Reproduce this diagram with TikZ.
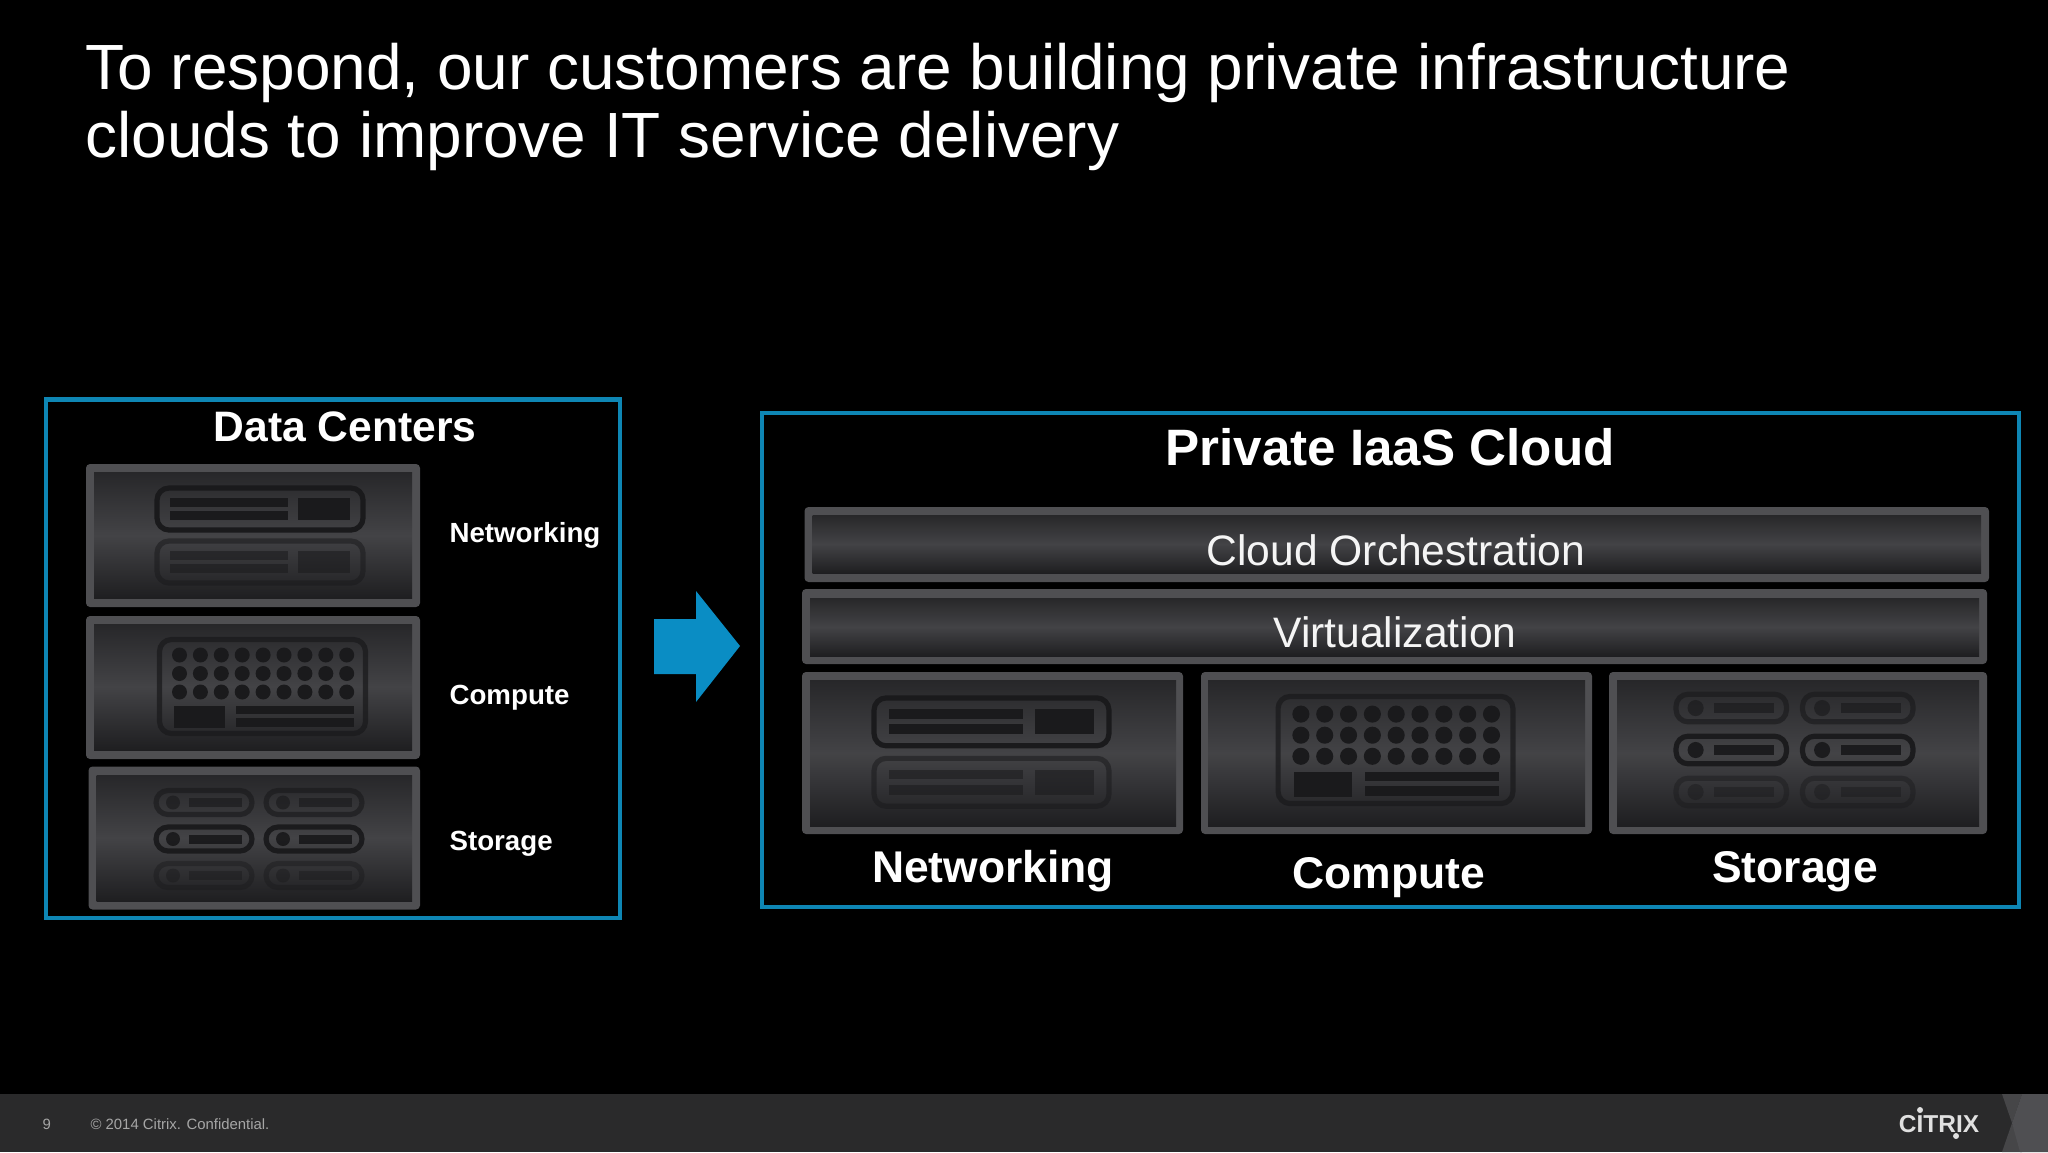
\documentclass[tikz,border=0pt]{standalone}
\usepackage{fontspec}
\setmainfont{Liberation Sans}
\usepackage{xcolor}
\usetikzlibrary{positioning}

\definecolor{frameblue}{HTML}{0E86B4}
\definecolor{arrowblue}{HTML}{0A8DC4}
\definecolor{rimgray}{HTML}{4F4F52}
\definecolor{icondark}{HTML}{1A1A1C}
\definecolor{footgray}{HTML}{2A2A2B}
\definecolor{panlow}{HTML}{18181A}
\definecolor{panmid}{HTML}{434346}

\pgfdeclareverticalshading{panelshade}{100bp}{
  color(0bp)=(panlow); color(25bp)=(panlow!85!panmid); color(50bp)=(panmid);
  color(75bp)=(panlow!65!panmid); color(100bp)=(panlow)}

\begin{document}
\begin{tikzpicture}[
    x=0.125mm, y=-0.125mm,
    % Node styles
    frame/.style={draw=frameblue, line width=0.56mm},
    rim/.style={fill=rimgray, rounded corners=0.5mm},
    panel/.style={shading=panelshade},
    heading/.style={text=white, font=\fontsize{15.8}{15.8}\selectfont\bfseries, inner sep=0pt, anchor=base},
    sidelabel/.style={text=white, font=\fontsize{9.85}{9.85}\selectfont\bfseries, inner sep=0pt, anchor=base west},
    layertext/.style={text=white!96!black, font=\fontsize{15.15}{15.15}\selectfont, inner sep=0pt, anchor=base},
    foottext/.style={text=white!65!black, font=\fontsize{5.3}{5.3}\selectfont, inner sep=0pt, anchor=base west},
    iconline/.style={draw=icondark, line width=0.65mm, rounded corners=1.5mm},
    iconpill/.style={draw=icondark, line width=0.65mm, rounded corners=1.5mm},
    iconfill/.style={fill=icondark},
    netdev/.pic={
      \foreach \yy/\op in {-26/1, 27/0.55} {
        \begin{scope}[opacity=\op]
          \draw[iconline] (-103,\yy-21) rectangle (103,\yy+21);
          \fill[iconfill] (-90,\yy-11) rectangle (28,\yy-2.5);
          \fill[iconfill] (-90,\yy+2) rectangle (28,\yy+11);
          \fill[iconfill] (38,\yy-11) rectangle (90,\yy+11);
        \end{scope}
      }
    },
    cpudev/.pic={
      \draw[iconline, opacity=0.75] (-103,-47) rectangle (103,47);
      \foreach \cc in {0,...,8} {
        \foreach \rr in {0,1,2} {
          \fill[iconfill] (-83+\cc*20.9,-31.5+\rr*18.5) circle (7.5);
        }
      }
      \fill[iconfill] (-89,19) rectangle (-38,41.5);
      \fill[iconfill] (-27,19) rectangle (91,27.5);
      \fill[iconfill] (-27,31.5) rectangle (91,40.5);
    },
    diskdev/.pic={
      \foreach \yy/\op in {-36.5/0.65, 0/0.95, 36.5/0.45} {
        \foreach \xx in {-55,55} {
          \begin{scope}[opacity=\op]
            \draw[iconpill] (\xx-48,\yy-12) rectangle (\xx+48,\yy+12);
            \fill[iconfill] (\xx-31,\yy) circle (7);
            \fill[iconfill] (\xx-15,\yy-4.5) rectangle (\xx+37.5,\yy+4.5);
          \end{scope}
        }
      }
    },
]

% Background and footer
\fill[black] (0,0) rectangle (2048,1152);
\fill[footgray] (0,1094) rectangle (2048,1152);
\fill[rimgray!75!footgray] (2002,1094) -- (2022,1094) -- (2012,1123) -- (2022,1152) -- (2002,1152) -- (2012,1123) -- cycle;
\fill[rimgray] (2022,1094) -- (2048,1094) -- (2048,1152) -- (2020,1152) -- (2012,1123) -- cycle;

% Slide title
\node[text=white, font=\fontsize{22.73}{24.1}\selectfont, align=left, inner sep=0pt, anchor=north west] (title) at (85,42.5)
  {To respond, our customers are building private infrastructure\\clouds to improve IT service delivery};

% Left frame
\draw[frame] (46,399.5) rectangle (620,918);
\node[heading, font=\fontsize{15.15}{15.15}\selectfont\bfseries] (dctitle) at (345,441) {Data Centers};

\fill[rim] (86,464) rectangle (420,607);
\shade[panel] (94,472) rectangle (412,598.5);
\pic at (260,535) {netdev};
\node[sidelabel] (dcnet) at (449,542.5) {Networking};

\fill[rim] (86,616) rectangle (420,759);
\shade[panel] (94,624) rectangle (412,750);
\pic at (262.5,686.5) {cpudev};
\node[sidelabel] (dccpu) at (449,704) {Compute};

\fill[rim] (88.5,766.5) rectangle (420,909.5);
\shade[panel] (96.5,775) rectangle (412,901);
\pic at (259,839) {diskdev};
\node[sidelabel] (dcdisk) at (449,850) {Storage};

% Block arrow
\fill[arrowblue] (654,619) -- (696,619) -- (696,591) -- (740,646) -- (696,702) -- (696,674) -- (654,674) -- cycle;

% Right frame
\draw[frame] (762,413) rectangle (2019,907);
\node[heading, font=\fontsize{18.2}{18.2}\selectfont\bfseries] (cloudtitle) at (1390,465) {Private IaaS Cloud};

\fill[rim] (804.5,507) rectangle (1989,582);
\shade[panel] (812.5,515) rectangle (1981,573);
\node[layertext] (orch) at (1396,565) {Cloud Orchestration};

\fill[rim] (802,589) rectangle (1987,664);
\shade[panel] (810,598) rectangle (1979,656);
\node[layertext] (virt) at (1395,647) {Virtualization};

\fill[rim] (802,672) rectangle (1183,834);
\shade[panel] (810,680) rectangle (1176,826);
\pic[scale=1.14] at (991.5,751.5) {netdev};
\node[heading] (cloudnet) at (993,882) {Networking};

\fill[rim] (1201,672) rectangle (1592,834);
\shade[panel] (1208,680) rectangle (1585,826);
\pic[scale=1.14] at (1395.5,750) {cpudev};
\node[heading] (cloudcpu) at (1389,888) {Compute};

\fill[rim] (1609,672) rectangle (1987,834);
\shade[panel] (1617,680) rectangle (1979,826);
\pic[scale=1.15] at (1794.5,750) {diskdev};
\node[heading] (clouddisk) at (1795,882) {Storage};

% Footer text
\node[foottext] (pageno) at (42,1129) {9};
\node[foottext] (copy) at (90,1129) {© 2014 Citrix. Confidential.};
\node[text=white!88!black, font=\fontsize{8.7}{8.7}\selectfont\bfseries, inner sep=0pt, anchor=base] (logo) at (1939,1132) {CITRIX};
\fill[white!88!black] (1920,1110) circle (3);
\fill[white!88!black] (1956,1136) circle (3);

\end{tikzpicture}
\end{document}
